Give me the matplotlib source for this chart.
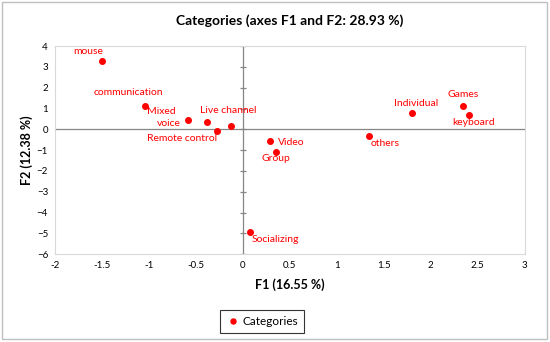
import numpy as np
import matplotlib.pyplot as plt
from matplotlib.patches import Rectangle

plt.rcParams['font.family'] = ['Lato', 'DejaVu Sans']

# category coordinates on F1 / F2
names = ['mouse', 'communication', 'Mixed', 'voice', 'Live channel', 'Remote control',
         'Video', 'Group', 'others', 'Individual', 'Games', 'keyboard', 'Socializing']
f1 = [-1.50, -1.04, -0.13, -0.58, -0.38, -0.28, 0.29, 0.35, 1.34, 1.80, 2.34, 2.41, 0.08]
f2 = [3.28, 1.10, 0.17, 0.43, 0.36, -0.10, -0.58, -1.08, -0.34, 0.79, 1.12, 0.67, -4.96]

xticks = [-2, -1.5, -1, -0.5, 0, 0.5, 1, 1.5, 2, 2.5, 3]
yticks = [-6, -5, -4, -3, -2, -1, 0, 1, 2, 3, 4]

# label offsets in points (dx, dy) relative to each point
offs = [(-21, 7), (-37, 10), (-60, 10), (-23, -2), (-5, 8), (-50, -5),
        (6, -1), (-10, -5), (1, -5), (-13, 7), (-11, 8), (-12, -5), (1, -5)]

fig = plt.figure(figsize=(5.5, 3.42), dpi=100)
fig.patches.append(Rectangle((0.004, 0.008), 0.99, 0.985, transform=fig.transFigure,
                             fill=False, edgecolor='#bfbfbf', lw=1))
ax = fig.add_axes([0.1, 0.257, 0.854, 0.608])

ax.axhline(0, color='#868686', lw=0.9, zorder=1)
ax.axvline(0, color='#868686', lw=0.9, zorder=1)
ax.plot([0] * len(yticks), yticks, ls='none', marker='_', ms=5, color='#868686', mew=0.9)

ax.plot(f1, f2, ls='none', marker='o', ms=4, color='#ff0000', label='Categories', zorder=3)
for n, x, y, (dx, dy) in zip(names, f1, f2, offs):
    ax.annotate(n, (x, y), xytext=(dx, dy), textcoords='offset points',
                color='#ff0000', fontsize=7.5, va='center', ha='left')

ax.set_xlim(-2, 3)
ax.set_ylim(-6, 4)
ax.set_xticks(xticks)
ax.set_xticklabels([f'{t:g}' for t in xticks])
ax.set_yticks(yticks)
ax.tick_params(length=0, labelsize=7, pad=5)
for s in ax.spines.values():
    s.set_color('#d9d9d9')

ax.set_title('Categories (axes F1 and F2: 28.93 %)', fontsize=10, fontweight='bold', pad=15)
ax.set_xlabel('F1 (16.55 %)', fontsize=9, fontweight='bold', labelpad=6)
ax.set_ylabel('F2 (12.38 %)', fontsize=9, fontweight='bold', labelpad=3)

leg = fig.legend(loc='center', bbox_to_anchor=(0.476, 0.061), fontsize=8.5, fancybox=False,
                 handletextpad=0.2, handlelength=1.2, borderpad=0.5, markerscale=0.9)
leg.get_frame().set_edgecolor('black')
leg.get_frame().set_linewidth(0.8)

fig.savefig('out.png', dpi=100)
